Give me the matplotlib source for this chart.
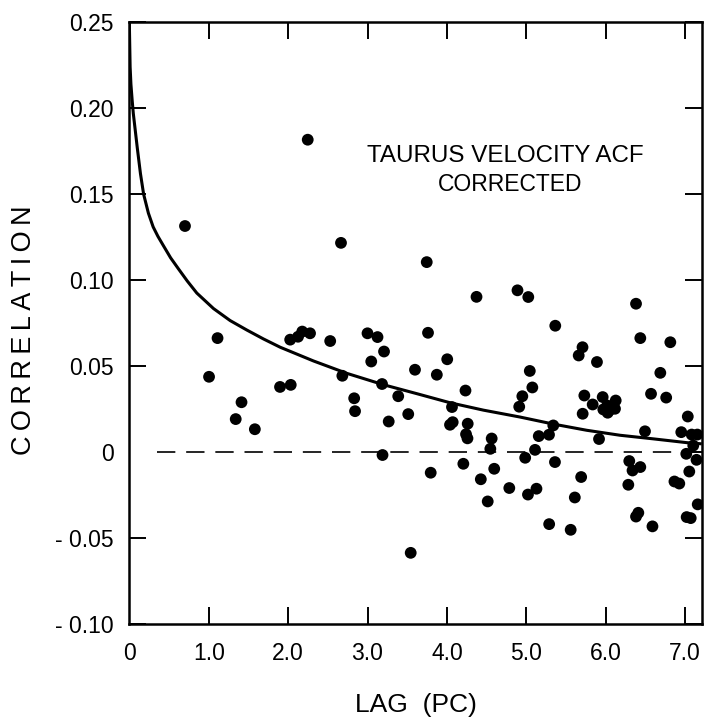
import matplotlib
matplotlib.use('Agg')
import matplotlib.pyplot as plt

# measured autocorrelation points: lag (pc) and correlation
lag = [0.701, 2.247, 2.666, 3.746, 4.373, 4.889, 5.025, 6.382, 5.365, 1.111,
       1.004, 1.340, 1.413, 1.581, 1.898, 2.033, 2.026, 2.125, 2.178, 2.276,
       2.530, 2.683, 2.832, 2.843, 3.000, 3.126, 3.047, 3.208, 3.183, 3.267,
       3.189, 3.387, 3.513, 3.598, 3.544, 3.762, 3.873, 4.004, 3.796, 4.064,
       4.073, 4.039, 4.262, 4.241, 4.259, 4.234, 4.207, 4.564, 4.547, 4.596,
       4.427, 4.514, 4.786, 5.021, 5.128, 4.986, 5.110, 5.157, 5.286, 5.340,
       5.361, 5.288, 5.559, 5.611, 5.691, 4.911, 4.950, 5.076, 5.044, 5.660,
       5.708, 5.890, 5.731, 5.710, 5.836, 5.916, 5.962, 6.126, 6.020, 5.970,
       6.045, 6.117, 6.025, 6.436, 6.814, 6.688, 6.571, 6.762, 7.034, 6.495,
       6.952, 7.083, 7.154, 7.103, 7.015, 7.144, 7.053, 6.297, 6.338, 6.436,
       6.285, 6.866, 6.927, 7.159, 7.020, 7.071, 6.382, 6.411, 6.589]
corr = [0.1315, 0.1817, 0.1217, 0.1105, 0.0903, 0.0941, 0.0902, 0.0863, 0.0735, 0.0663,
        0.0438, 0.0192, 0.0290, 0.0133, 0.0379, 0.0391, 0.0654, 0.0671, 0.0701, 0.0691,
        0.0646, 0.0444, 0.0313, 0.0238, 0.0691, 0.0669, 0.0527, 0.0585, 0.0396, 0.0178,
        -0.0017, 0.0325, 0.0221, 0.0479, -0.0586, 0.0694, 0.0450, 0.0540, -0.0120, 0.0262,
        0.0174, 0.0159, 0.0165, 0.0104, 0.0080, 0.0358, -0.0068, 0.0079, 0.0019, -0.0097,
        -0.0158, -0.0287, -0.0209, -0.0247, -0.0213, -0.0033, 0.0013, 0.0093, 0.0101, 0.0155,
        -0.0058, -0.0419, -0.0452, -0.0264, -0.0145, 0.0264, 0.0325, 0.0376, 0.0472, 0.0562,
        0.0610, 0.0524, 0.0329, 0.0223, 0.0277, 0.0076, 0.0320, 0.0300, 0.0271, 0.0248,
        0.0242, 0.0252, 0.0229, 0.0663, 0.0639, 0.0461, 0.0339, 0.0317, 0.0207, 0.0121,
        0.0116, 0.0102, 0.0102, 0.0038, -0.0010, -0.0045, -0.0113, -0.0052, -0.0107, -0.0087,
        -0.0190, -0.0171, -0.0183, -0.0304, -0.0378, -0.0384, -0.0375, -0.0353, -0.0432]

# fitted curve
fit_lag = [0.0, 0.01, 0.02, 0.035, 0.05, 0.075, 0.10, 0.14, 0.18, 0.24, 0.30, 0.36,
           0.43, 0.52, 0.62, 0.73, 0.85, 1.06, 1.27, 1.48, 1.69, 1.90, 2.32, 2.74,
           3.20, 3.62, 4.04, 4.46, 4.92, 5.34, 5.76, 6.18, 6.60, 7.02, 7.21]
fit_corr = [0.250, 0.224, 0.214, 0.205, 0.197, 0.187, 0.177, 0.162, 0.150, 0.139,
            0.131, 0.1255, 0.120, 0.113, 0.1065, 0.0995, 0.0925, 0.0835, 0.0765,
            0.0710, 0.0658, 0.0610, 0.0530, 0.0458, 0.0392, 0.0340, 0.0287, 0.0244,
            0.0204, 0.0163, 0.0127, 0.0098, 0.0077, 0.0055, 0.0048]

# dashed zero line
zero_lag = [0.35, 7.21]
zero_corr = [0.0, 0.0]

xticks = [0, 1, 2, 3, 4, 5, 6, 7]
xtick_labels = ['0', '1.0', '2.0', '3.0', '4.0', '5.0', '6.0', '7.0']
yticks = [-0.10, -0.05, 0.0, 0.05, 0.10, 0.15, 0.20, 0.25]
ytick_labels = ['- 0.10', '- 0.05', '0', '0.05', '0.10', '0.15', '0.20', '0.25']

plt.rcParams['font.family'] = ['Liberation Sans', 'DejaVu Sans']


def spaced(word):
    # the lettering in the original is widely spaced
    return '\u2009'.join(word)


fig = plt.figure(figsize=(7.11, 7.19), dpi=100)
ax = fig.add_axes([0.1819, 0.1321, 0.8051, 0.8369])

ax.plot(fit_lag, fit_corr, color='black', lw=2.2, solid_capstyle='butt',
        solid_joinstyle='round')
ax.plot(zero_lag, zero_corr, color='black', lw=1.2, dashes=(11, 6.5))
ax.scatter(lag, corr, s=72, color='black', edgecolors='none', zorder=3)

ax.text(4.74, 0.172, 'TAURUS VELOCITY ACF', ha='center', va='center', fontsize=17.4)
ax.text(4.79, 0.1555, 'CORRECTED', ha='center', va='center', fontsize=16.5)

ax.set_xlim(0, 7.21)
ax.set_ylim(-0.10, 0.25)
ax.set_xticks(xticks)
ax.set_xticklabels(xtick_labels)
ax.set_yticks(yticks)
ax.set_yticklabels(ytick_labels)
ax.tick_params(direction='in', length=12.5, width=1.4, top=True, right=True,
               labelsize=16.5)
ax.tick_params(axis='x', pad=13)
ax.tick_params(axis='y', pad=11)

# no left tick at zero in the original
ax.yaxis.get_major_ticks()[2].tick1line.set_visible(False)
ax.xaxis.get_major_ticks()[0].tick1line.set_visible(False)
ax.xaxis.get_major_ticks()[0].tick2line.set_visible(False)

for s in ax.spines.values():
    s.set_linewidth(1.8)

ax.set_xlabel('LAG  (PC)', fontsize=19, labelpad=20)
ax.set_ylabel(spaced('CORRELATION'), fontsize=19.5, labelpad=12)
ax.yaxis.set_label_coords(-0.161, 0.488)

fig.savefig('out.png', dpi=100)
